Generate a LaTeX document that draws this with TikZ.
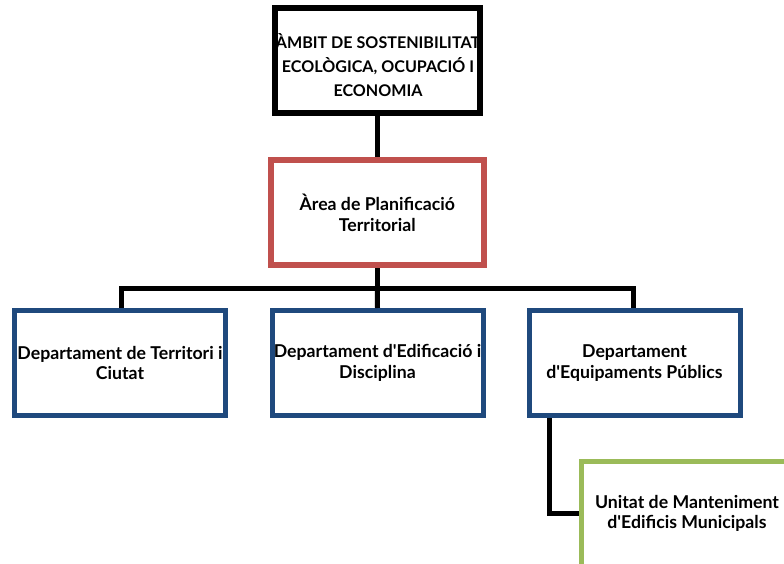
\documentclass[tikz,border=0pt]{standalone}
\usepackage{fontspec}
\setmainfont{Lato}[Ligatures=TeXOff]
\definecolor{boxred}{HTML}{C0504D}
\definecolor{boxblue}{HTML}{1F497D}
\definecolor{boxgreen}{HTML}{9BBB59}
\begin{document}
\begin{tikzpicture}[x=1pt,y=-1pt,
  box/.style={draw, fill=white, rectangle, align=center, inner sep=0pt,
    font=\bfseries\fontsize{17.7}{20.7}\selectfont},
  topbox/.style={box, line width=6pt, draw=black, minimum width=205.5pt, minimum height=105.5pt},
  toptext/.style={align=center, inner sep=0pt, font=\bfseries\fontsize{16.1}{24}\selectfont},
  redbox/.style={box, line width=6pt, draw=boxred, minimum width=212.5pt, minimum height=105pt},
  bluebox/.style={box, line width=5pt, draw=boxblue, minimum width=211pt, minimum height=105pt},
  greenbox/.style={box, line width=5pt, draw=boxgreen, minimum width=212pt, minimum height=105pt},
  conn/.style={draw=black, line width=5pt}]
\useasboundingbox (0,0) rectangle (784,564);
\clip (0,0) rectangle (784,564);

\node[topbox] (top) at (377.25,60.75) {};
\node[toptext] (toptxt) at (378,65.5) {ÀMBIT DE SOSTENIBILITAT\\ECOLÒGICA, OCUPACIÓ I\\ECONOMIA};
\node[redbox] (area) at (377.25,212.5) {Àrea de Planificació\\Territorial};
\node[bluebox] (d1) at (120,363) {Departament de Territori i\\Ciutat};
\node[bluebox] (d2) at (377.5,363) {Departament d'Edificació i\\Disciplina};
\node[bluebox] (d3) at (634.5,363) {Departament\\d'Equipaments Públics};
\node[greenbox] (unit) at (687,513.5) {Unitat de Manteniment\\d'Edificis Municipals};

\coordinate (bus) at (377.25,288);
\draw[conn] (top.south) -- (area.north);
\draw[conn] (area.south) -- (bus);
\draw[conn] (bus) -- (d2.north);
\draw[conn] ([xshift=1pt]d1.north) |- (bus) -| ([xshift=-1.5pt]d3.north);
\draw[conn] ([xshift=23pt]d3.south west) |- (unit.west);
\end{tikzpicture}
\end{document}
